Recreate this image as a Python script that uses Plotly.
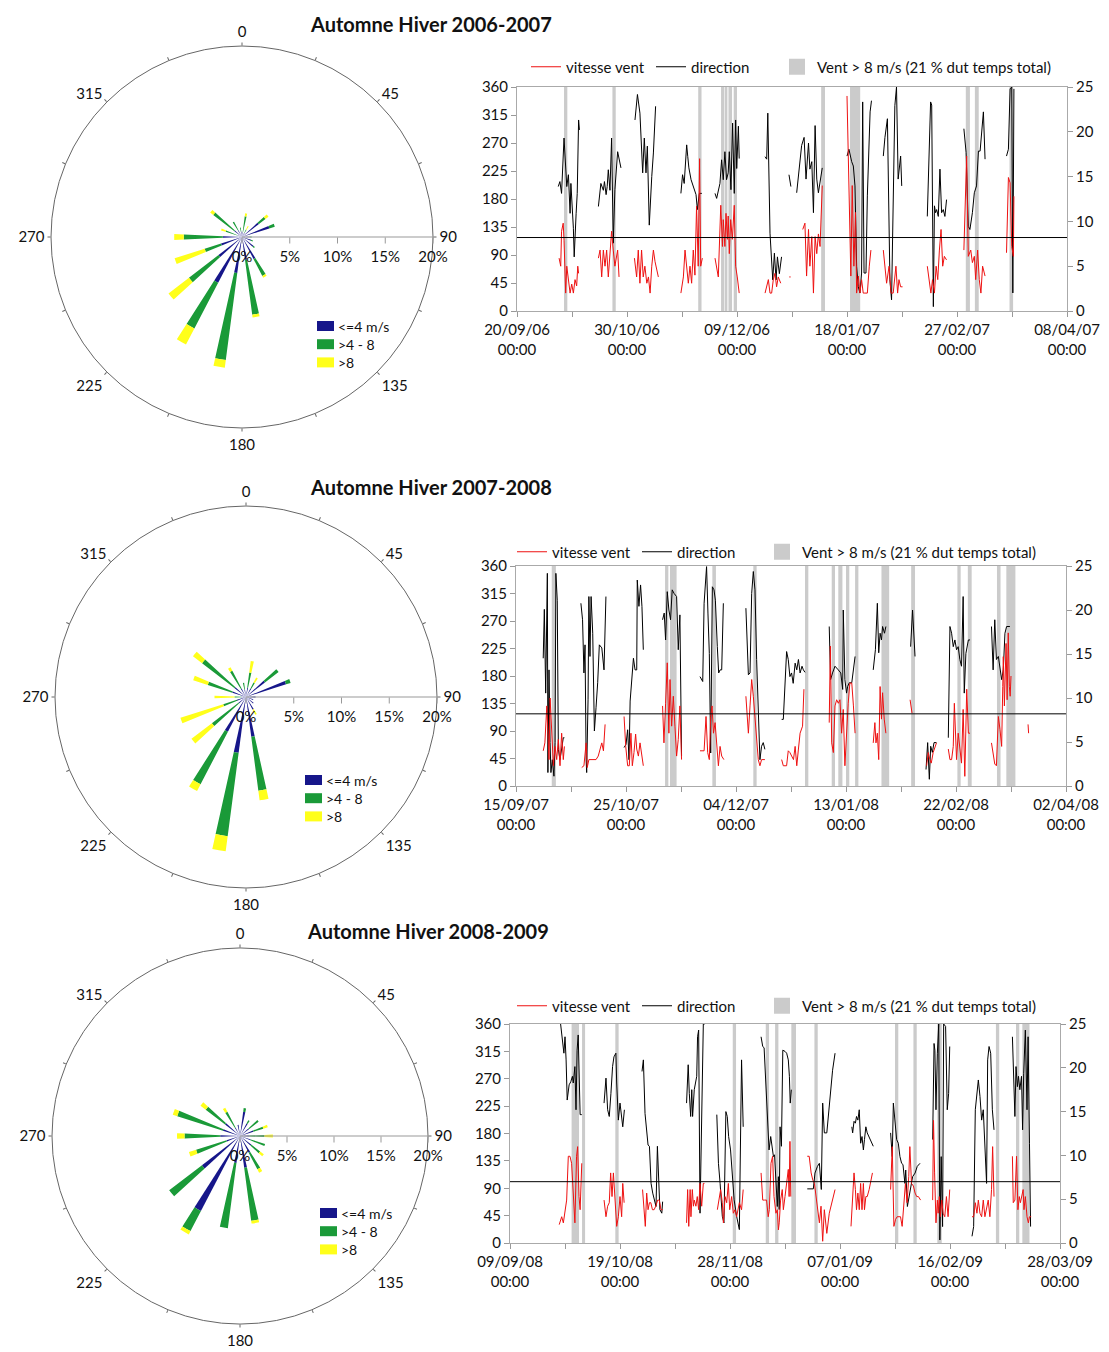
import plotly.graph_objects as go
import pandas as pd

W, H = 1109, 1352
FONT = "Lato, 'Open Sans', sans-serif"

# ------------------------------------------------------------------ wind roses
dir_bins = [10, 30, 50, 70, 90, 110, 130, 150, 170, 190, 210, 230, 250, 270, 290, 310, 330, 350]
class_labels = ["<=4 m/s", ">4 - 8", ">8"]
class_colors = ["#16168a", "#1a9a38", "#ffff1a"]

rose1_le4 = [0.5, 0.5, 2.2, 3.0, 0.8, 1.0, 1.5, 2.6, 2.4, 3.8, 5.4, 3.1, 2.3, 2.0, 0.5, 1.0, 0.8, 0.6]
rose1_4to8 = [1.7, 0.4, 0.9, 0.6, 0.2, 0.2, 0.2, 2.0, 5.8, 9.2, 5.4, 3.9, 1.8, 4.1, 1.3, 2.8, 1.0, 0.4]
rose1_gt8 = [0.3, 0.4, 0.4, 0, 0, 0, 0, 0.2, 0.3, 0.8, 1.9, 2.7, 3.3, 1.0, 0.5, 0.4, 0, 0]

rose2_le4 = [1.0, 1.0, 2.5, 4.4, 1.0, 0.8, 1.0, 1.5, 4.2, 5.9, 4.1, 1.0, 1.0, 0.5, 1.5, 1.5, 1.0, 0.8]
rose2_4to8 = [1.6, 0.7, 1.8, 0.5, 0, 0, 0, 0, 5.7, 8.8, 6.2, 3.5, 1.5, 0.7, 2.7, 4.3, 2.1, 0.7]
rose2_gt8 = [1.2, 0.6, 0, 0, 0, 0, 0, 0.6, 1.0, 1.6, 0.8, 2.7, 4.7, 2.1, 1.6, 1.2, 0.4, 0]

rose3_le4 = [2.6, 1.5, 1.2, 1.5, 1.0, 1.2, 1.5, 2.0, 3.4, 2.9, 9.0, 5.1, 1.5, 2.1, 1.9, 2.0, 1.0, 1.2]
rose3_4to8 = [0.4, 0.4, 1.3, 1.1, 1.6, 1.6, 1.2, 2.0, 5.7, 7.0, 2.4, 4.4, 3.4, 3.8, 5.1, 2.6, 1.9, 0]
rose3_gt8 = [0, 0, 0, 0.5, 0.9, 0, 0.5, 0.4, 0.3, 0, 0.4, 0, 0.8, 0.8, 0.5, 0.7, 0.5, 0]

angle_ticks = [0, 22.5, 45, 67.5, 90, 112.5, 135, 157.5, 180, 202.5, 225, 247.5, 270, 292.5, 315, 337.5]
angle_text = ["0", "", "45", "", "90", "", "135", "", "180", "", "225", "", "270", "", "315", ""]
radial_ticks = [0, 5, 10, 15, 20]
radial_text = ["0%", "5%", "10%", "15%", "20%"]

# ------------------------------------------------------------------ time series
titles = ["Automne Hiver 2006-2007", "Automne Hiver 2007-2008", "Automne Hiver 2008-2009"]
starts = ["2006-09-20", "2007-09-15", "2008-09-09"]
ends = ["2007-04-08", "2008-04-02", "2009-03-28"]
thresholds = [8.2, 8.2, 7.0]

# days since start / direction (deg); None = gap
c1_dir_day = [15.0, 15.6, 16.2, 17.1, 18.1, 18.7, 19.3, 19.6, 20.5, 20.8, 21.5, 21.9, 22.4, 22.7, None,
              29.6, 30.5, 31.4, 31.8, 32.4, 32.8, 33.2, 33.8, 34.4, 35.0, 35.6, 36.6, 37.8, None,
              42.9, 43.8, 44.7, 45.7, 46.3, 46.9, 47.4, 48.1, 49.0, 49.6, 50.4, None,
              59.6, 60.2, 60.8, 61.7, 62.1, 62.5, 63.3, 64.1, 65.1, 65.6, 66.3, 67.2, None,
              72.0, 72.6, 73.8, 74.4, 75.0, 75.6, 76.2, 76.8, 77.2, 77.8, 78.4, 79.0, 79.5, 79.9, 80.5, 80.8, None,
              90.2, 90.8, 91.2, 92.0, 93.0, 93.6, 94.2, 94.7, 95.4, 96.2, None,
              98.9, 99.3, 99.6, None,
              101.7, 103.5, 104.4, 105.1, 106.0, 106.5, 107.2, 107.8, 108.4, 109.0, 109.6, 110.2, 111.0, None,
              120.0, 120.7, 121.7, 122.3, 122.9, 123.5, 124.1, 124.7, 125.3, 125.7, 126.2, 126.9, 127.4, 128.4, 128.9, None,
              133.2, 133.8, 134.7, 135.3, 135.6, 136.2, 136.8, 137.4, 138.0, 138.6, 139.5, 139.9, None,
              149.2, 149.9, 150.4, 150.8, 151.4, 151.8, 152.2, 152.6, 153.2, 153.8, 154.4, 155.0, 155.6, 156.2, None,
              162.5, 163.3, 164.1, 164.7, 165.6, 166.3, 167.1, 167.8, 168.4, 169.0, 169.6, 170.2, None,
              178.0, 178.7, 179.3, 179.9, 180.3, 180.7]
c1_dir_val = [200, 208, 189, 278, 200, 219, 157, 205, 133, 87, 157, 189, 307, 291, None,
              168, 205, 194, 208, 187, 200, 227, 194, 278, 109, 195, 256, 230, None,
              307, 348, 318, 222, 278, 222, 265, 138, 216, 254, 329, None,
              189, 219, 205, 267, 248, 230, 211, 200, 187, 163, 189, 189, None,
              189, 181, 205, 243, 211, 256, 211, 222, 256, 195, 302, 189, 307, 229, 297, 245, None,
              248, 244, 318, 125, 50, 93, 50, 87, 60, 87, None,
              219, 206, 200, None,
              190, 266, 279, 212, 270, 228, 240, 158, 298, 212, 190, 206, 230, None,
              249, 260, 240, 233, 201, 72, 39, 29, 61, 336, 61, 61, 185, 320, 338, None,
              249, 279, 309, 169, 50, 18, 147, 330, 360, 212, 249, 201, None,
              152, 244, 336, 331, 7, 169, 158, 163, 152, 228, 158, 163, 152, 179, None,
              293, 255, 136, 131, 158, 190, 201, 257, 257, 287, 320, 244, None,
              249, 260, 357, 360, 29, 357]
c1_spd_day = [15.3, 15.9, 16.2, 16.8, 17.1, 17.7, 18.1, 18.7, 19.3, 19.9, 20.5, 21.1, 21.7, 22.1, 22.4, None,
              29.6, 30.2, 30.8, 31.4, 32.0, 32.6, 33.2, 33.8, 34.4, 35.0, 35.6, 36.6, 37.1, None,
              42.7, 43.5, 44.1, 44.7, 45.3, 45.9, 46.5, 47.2, 47.8, 48.4, 49.0, 49.6, 50.2, 51.4, None,
              59.6, 60.5, 61.1, 61.7, 62.3, 62.9, 63.5, 64.1, 64.7, 65.3, 65.9, 66.4, 66.8, 67.4, None,
              72.0, 73.2, 74.1, 74.7, 75.0, 75.6, 76.0, 76.5, 76.8, 77.2, 77.7, 78.3, 79.0, 79.5, 80.1, 80.8, None,
              90.2, 90.8, 91.4, 92.0, 92.6, 93.2, 93.8, 94.4, 95.0, 95.9, None,
              99.0, 99.5, None,
              103.9, 104.7, 105.3, 106.0, 106.5, 107.2, 107.8, 108.4, 109.0, 109.6, 110.2, 111.0, None,
              120.0, 120.4, 121.0, 121.4, 121.9, 122.5, 123.1, 123.5, 124.1, 124.7, 125.3, 125.9, 126.5, 127.4, 128.1, 128.7, None,
              133.2, 134.4, 135.3, 136.0, 136.8, 137.8, 138.4, 138.9, 139.5, 140.2, None,
              149.2, 149.9, 150.5, 151.1, 151.8, 152.4, 153.0, 153.6, 154.2, 154.8, 155.4, 156.2, None,
              162.5, 163.5, 164.1, 165.0, 165.6, 166.3, 166.8, 167.5, 168.1, 168.7, 169.3, 170.2, None,
              178.0, 178.7, 179.3, 179.9, 180.5, 180.7]
c1_spd_val = [5.9, 5.0, 8.9, 9.8, 7.9, 2.0, 5.0, 3.5, 2.0, 3.0, 2.0, 3.5, 2.8, 5.0, 4.2, None,
              5.9, 6.8, 3.8, 6.8, 5.0, 6.8, 3.8, 6.4, 8.9, 6.8, 5.0, 6.8, 3.8, None,
              5.9, 3.8, 6.8, 3.1, 6.8, 3.8, 5.0, 3.1, 3.8, 2.0, 5.0, 6.8, 5.5, 3.8, None,
              2.0, 3.8, 6.8, 5.0, 3.1, 5.0, 3.1, 6.8, 4.0, 11.7, 5.0, 17.0, 5.0, 5.9, None,
              5.9, 3.8, 11.8, 7.2, 10.2, 7.2, 10.9, 8.0, 10.6, 6.4, 10.2, 8.0, 11.8, 5.0, 3.8, 2.0, None,
              2.0, 2.7, 3.5, 2.0, 2.0, 3.5, 4.2, 2.7, 3.8, 3.1, None,
              3.8, 3.8, None,
              9.1, 9.8, 3.9, 9.1, 5.0, 8.3, 2.0, 8.3, 6.4, 8.6, 7.2, 14.0, None,
              24.0, 18.5, 10.2, 3.9, 14.0, 5.0, 11.0, 2.0, 3.9, 2.0, 3.5, 2.0, 2.0, 2.0, 5.0, 6.8, None,
              6.8, 3.1, 5.0, 2.0, 2.0, 5.0, 2.0, 3.5, 2.7, 2.7, None,
              5.0, 3.5, 2.0, 3.5, 2.0, 5.0, 3.5, 6.8, 9.1, 5.0, 6.1, 5.7, None,
              6.8, 17.3, 6.1, 6.8, 5.4, 6.1, 3.5, 6.8, 3.5, 2.0, 5.0, 3.9, None,
              6.5, 14.9, 14.3, 7.2, 6.1, 12.8]
c1_band_start = [17.1, 34.7, 65.9, 74.2, 75.6, 76.9, 78.8, 110.6, 121.1, 163.2, 166.5, 179.1]
c1_band_end = [18.3, 35.9, 67.1, 75.4, 76.5, 78.2, 80.0, 112.0, 124.8, 164.7, 167.9, 180.4]

c2_dir_day = [9.9, 10.3, 10.8, 11.2, 11.4, 11.6, 12.0, 12.4, 12.7, 13.2, 13.8, 14.2, 14.5, 15.0, 15.4, 16.0, 16.6, 17.2, 17.6, None,
              23.6, 24.2, 24.7, 25.1, 25.5, 25.7, 26.2, 26.5, 26.9, 27.3, 27.9, 28.5, 29.1, 29.7, 30.3, 31.2, 32.0, 32.7, None,
              39.3, 40.0, 40.6, 41.1, 41.5, 42.1, 42.7, 43.3, 43.9, 44.1, 44.7, 45.3, 45.8, 46.3, None,
              53.3, 53.9, 54.4, 55.0, 55.6, 56.2, 56.8, 57.5, 58.4, 59.0, 59.6, 60.2, None,
              66.9, 67.9, 68.4, 69.3, 69.8, 70.3, 70.8, 71.4, 72.0, 72.5, 73.2, 73.7, 74.2, 74.8, 75.4, None,
              83.6, 84.5, 85.1, 85.7, 86.3, 86.9, 87.5, 88.1, 88.7, 89.3, 89.9, 90.5, None,
              96.6, 97.2, 98.4, 99.0, 99.6, 100.2, 100.8, 101.5, 102.1, 102.7, 103.3, 104.0, 104.5, 105.1, None,
              113.9, 114.4, 115.1, 116.0, 117.2, 118.1, 118.8, 119.0, 119.6, 120.2, 120.6, 121.2, 122.1, 122.7, 123.3, None,
              129.9, 130.7, 131.4, 131.9, 132.4, 132.9, 133.3, 134.0, 134.5, None,
              143.5, 144.2, 145.1, None,
              149.1, 149.7, 150.3, 150.8, 151.4, 152.0, 152.9, None,
              157.2, 157.8, 158.4, 159.0, 159.6, 160.2, 160.8, 161.4, 162.0, 162.6, 163.0, 163.6, 164.5, 165.1, None,
              172.9, 173.5, 174.1, 174.7, 175.4, 176.0, 176.6, 177.2, 177.8, 178.4, 179.0, 179.6]
c2_dir_val = [209, 289, 152, 326, 348, 22, 190, 71, 22, 43, 16, 71, 348, 304, 60, 43, 65, 79, 79, None,
              299, 272, 185, 231, 43, 22, 141, 310, 212, 310, 250, 90, 128, 169, 231, 226, 190, 310, None,
              63, 68, 92, 43, 139, 174, 209, 190, 190, 337, 294, 329, 294, 223, None,
              272, 283, 239, 318, 288, 272, 321, 315, 310, 223, 280, 49, None,
              179, 171, 299, 359, 283, 217, 54, 326, 321, 304, 228, 185, 190, 190, 299, None,
              291, 182, 185, 315, 351, 321, 207, 109, 43, 65, 71, 60, None,
              109, 109, 220, 207, 179, 185, 168, 201, 190, 207, 185, 196, 190, 186, None,
              261, 174, 185, 196, 190, 185, 158, 288, 174, 152, 163, 169, 169, 190, 212, None,
              190, 223, 299, 218, 250, 239, 261, 250, 261, None,
              228, 288, 212, None,
              27, 71, 11, 65, 55, 71, 71, None,
              79, 261, 250, 228, 239, 223, 228, 207, 196, 310, 152, 217, 239, 239, None,
              261, 190, 272, 207, 212, 190, 174, 190, 250, 261, 261, 261]
c2_spd_day = [9.9, 10.5, 11.2, 11.5, 12.0, 12.4, 12.7, 13.1, 13.6, 14.2, 14.8, 15.4, 16.0, 16.6, 17.2, 17.6, None,
              23.9, 24.7, 25.5, 25.9, 26.5, 27.2, 28.1, 29.1, 29.9, 30.5, 31.2, 31.8, 32.4, None,
              39.3, 39.9, 40.6, 41.2, 41.8, 42.3, 42.9, 43.5, 43.9, 44.5, 45.1, 45.7, 46.3, None,
              53.3, 53.8, 54.4, 55.0, 55.6, 56.0, 56.6, 57.2, 57.8, 58.4, 59.0, 59.6, 60.2, None,
              66.9, 68.4, 69.1, 69.7, 70.3, 70.8, 71.3, 71.8, 72.4, 73.0, 73.6, 74.2, 74.8, 75.6, None,
              83.6, 84.5, 85.1, 85.7, 86.3, 86.9, 87.5, 88.1, 88.7, 89.3, 90.5, None,
              96.6, 97.2, 98.4, 99.0, 99.6, 100.2, 100.9, 101.5, 102.1, 102.7, 103.3, 104.2, 104.7, None,
              113.9, 114.3, 114.8, 115.4, 116.0, 116.6, 117.2, 117.8, 118.4, 119.0, 119.6, 120.2, 120.8, 121.4, 122.1, 122.7, 123.3, None,
              129.9, 130.5, 130.9, 131.4, 131.9, 132.4, 132.9, 133.3, 133.9, 134.5, None,
              143.3, 144.0, None,
              149.3, 149.9, 150.5, 151.0, 151.7, 152.9, None,
              157.2, 157.8, 158.4, 159.0, 159.4, 159.8, 160.2, 160.8, 161.4, 162.0, 162.6, 163.2, 163.9, 164.5, 165.1, None,
              172.9, 173.5, 174.1, 174.7, 175.4, 176.0, 176.6, 177.0, 177.2, 177.6, 178.2, 178.6, 179.0, 179.4, 179.7, 180.0, None,
              186.2, 186.4]
c2_spd_val = [4.0, 4.9, 9.1, 6.0, 3.0, 10.0, 7.6, 4.5, 2.3, 4.5, 3.0, 5.3, 2.3, 6.0, 3.0, 4.5, None,
              2.1, 2.3, 4.9, 2.1, 3.0, 3.0, 3.0, 3.0, 3.4, 4.0, 4.9, 4.0, 7.0, None,
              7.9, 4.5, 2.3, 2.3, 6.0, 2.3, 3.8, 5.9, 4.2, 3.4, 4.9, 3.8, 2.3, None,
              9.1, 4.9, 9.4, 14.0, 6.0, 12.1, 6.8, 10.2, 6.8, 3.4, 5.3, 9.1, 3.0, None,
              4.0, 4.0, 7.9, 3.8, 3.0, 7.9, 9.1, 6.0, 7.2, 4.2, 2.3, 4.5, 3.4, 3.0, None,
              10.2, 6.0, 9.1, 12.1, 10.2, 7.9, 6.0, 3.0, 2.3, 3.0, 3.0, None,
              3.0, 2.3, 2.3, 4.0, 3.8, 3.4, 3.0, 4.5, 2.3, 4.2, 6.0, 6.8, 11.0, None,
              7.2, 15.9, 4.9, 3.8, 9.1, 9.8, 9.4, 9.8, 6.0, 8.7, 2.3, 6.0, 9.4, 11.7, 11.7, 9.1, 6.0, None,
              4.9, 7.2, 4.9, 6.0, 3.0, 11.3, 7.6, 10.6, 7.6, 6.0, None,
              9.8, 8.3, None,
              2.3, 3.8, 3.0, 2.6, 3.8, 4.9, None,
              4.2, 3.0, 3.0, 4.5, 9.4, 6.8, 3.0, 6.0, 3.8, 2.6, 8.7, 1.1, 11.0, 6.0, 6.0, None,
              4.9, 3.8, 2.5, 2.3, 7.9, 6.4, 4.5, 11.3, 14.7, 9.1, 16.2, 9.8, 17.4, 11.3, 10.2, 12.5, None,
              7.0, 6.0]
c2_band_start = [13.0, 54.2, 56.0, 71.4, 86.3, 105.1, 114.8, 117.2, 120.0, 123.3, 132.9, 143.7, 160.5, 164.3, 174.9, 178.3]
c2_band_end = [14.5, 55.4, 58.4, 72.7, 87.5, 106.3, 116.0, 118.7, 121.2, 124.5, 135.7, 145.1, 161.7, 165.7, 176.2, 181.6]

c3_dir_day = [18.4, 19.0, 19.6, 20.0, 20.4, 20.8, 21.5, 22.1, 22.7, 23.0, 23.6, 24.0, 24.4, 24.8, 25.5, 26.1, None,
              34.2, 34.9, 35.5, 36.1, 36.7, 37.3, 37.8, 38.5, 38.8, 39.4, 40.0, 40.6, 41.0, 41.6, None,
              48.0, 48.5, 49.1, 49.7, 50.2, 50.7, 51.3, 51.9, 52.5, 53.1, 53.6, 53.9, 54.5, 55.2, 55.5, None,
              64.2, 64.8, 65.2, 65.7, 66.1, 66.4, 67.0, 67.4, 67.9, 68.2, 68.6, 69.1, 69.7, 70.3, 70.8, None,
              75.2, 75.8, 76.4, 77.2, 77.8, 78.2, 78.5, 79.0, 79.5, 80.2, 80.8, 81.5, 82.4, 83.4, 84.2, 84.8, None,
              91.3, 91.9, 92.4, 93.0, 93.6, 94.2, 94.8, 95.2, 95.8, 96.2, 96.7, 97.2, 97.6, 97.9, 98.2, 98.7, 99.2, 100.0, 100.6, 101.2, 101.6, 101.9, 102.3, None,
              108.1, 110.3, 110.9, 111.8, 112.5, 113.2, 113.7, 114.3, 115.2, 116.4, 117.3, 118.2, None,
              124.3, 124.6, 125.1, 125.6, 126.0, 126.5, 127.0, 127.5, 128.0, 128.5, 128.9, 129.4, 129.9, 130.9, 132.1, None,
              138.4, 139.0, 139.4, 139.9, 140.6, 141.2, 141.8, 142.4, 142.9, 143.6, 143.9, 144.5, 145.4, 146.4, 147.3, 148.1, 149.1, None,
              153.7, 154.2, 154.5, 154.9, 155.4, 155.9, 156.3, 156.8, 157.3, 157.7, 158.4, 159.0, 159.5, 159.9, None,
              168.0, 168.6, 169.2, 169.8, 170.3, 170.9, 171.5, 172.1, 172.7, 173.3, 173.7, 174.2, 174.8, 175.4, 176.0, None,
              182.7, 183.0, 183.6, 184.0, 184.5, 184.9, 185.4, 186.0, 186.4, 186.8, 187.4, 188.0, 188.4, 188.9, 189.3]
c3_dir_val = [360, 339, 312, 339, 301, 235, 260, 265, 274, 263, 290, 219, 317, 342, 211, 211, None,
              230, 271, 219, 208, 246, 290, 306, 312, 263, 202, 230, 208, 191, 219, None,
              282, 301, 213, 181, 161, 159, 98, 82, 71, 60, 159, 120, 55, 49, 68, None,
              230, 293, 246, 208, 252, 208, 252, 263, 274, 339, 350, 49, 191, 360, 360, None,
              211, 131, 98, 44, 33, 131, 216, 208, 175, 153, 109, 71, 44, 22, 301, 191, None,
              339, 323, 321, 263, 202, 153, 175, 164, 142, 145, 93, 60, 109, 55, 191, 159, 317, 315, 312, 301, 274, 230, 252, None,
              89, 89, 115, 126, 131, 88, 230, 181, 181, 246, 284, 312, None,
              191, 181, 200, 197, 208, 202, 219, 164, 175, 153, 170, 191, 181, 172, 159, None,
              181, 142, 230, 202, 170, 164, 142, 131, 129, 98, 120, 60, 82, 109, 115, 126, 131, None,
              170, 328, 317, 219, 312, 360, 5, 142, 27, 360, 356, 219, 246, 323, None,
              11, 27, 219, 246, 268, 241, 202, 219, 142, 98, 301, 323, 312, 219, 186, None,
              339, 295, 208, 290, 257, 274, 252, 274, 186, 279, 350, 219, 339, 164, 27]
c3_spd_day = [17.9, 18.8, 19.4, 20.0, 20.6, 21.2, 21.8, 22.4, 23.0, 23.6, 24.2, 24.6, 25.1, 25.5, 26.1, None,
              34.2, 34.9, 35.5, 36.1, 36.6, 37.1, 37.6, 38.2, 38.8, 39.4, 40.0, 40.6, 41.0, 41.5, None,
              48.2, 48.7, 49.2, 49.7, 50.2, 50.7, 51.2, 51.8, 52.4, 53.0, 53.7, 54.3, 54.9, 55.5, None,
              64.2, 64.6, 65.0, 65.5, 65.8, 66.3, 66.7, 67.0, 67.6, 68.1, 68.6, 69.1, 69.7, 70.3, 70.7, None,
              75.4, 76.0, 76.6, 77.2, 77.6, 78.2, 78.8, 79.4, 79.9, 80.6, 81.2, 81.8, 82.4, 83.4, 84.2, 84.8, None,
              91.3, 91.9, 92.5, 93.3, 93.9, 94.3, 94.9, 95.5, 96.0, 96.7, 97.2, 97.6, 97.9, 98.4, 99.0, 99.4, 100.0, 100.6, 101.2, 101.5, 101.8, 102.1, None,
              108.1, 108.8, 109.5, 110.1, 110.7, 111.3, 111.9, 112.5, 113.1, 113.7, 114.3, 115.2, 116.1, 117.0, 118.2, None,
              124.0, 124.6, 125.1, 125.6, 126.0, 126.5, 127.0, 127.5, 128.0, 128.5, 128.9, 129.4, 129.9, 130.6, 131.8, None,
              138.4, 139.0, 139.6, 140.2, 140.8, 141.4, 142.0, 142.6, 143.1, 143.8, 144.4, 145.0, 145.4, 146.0, 146.7, 147.3, 147.9, 148.5, 149.3, None,
              153.7, 154.0, 154.4, 154.9, 155.4, 155.7, 156.1, 156.5, 157.0, 157.5, 158.1, 158.7, 159.3, 159.9, None,
              168.0, 168.6, 169.2, 169.8, 170.3, 170.9, 171.5, 172.1, 172.7, 173.3, 173.9, 174.5, 175.1, 175.5, 176.0, None,
              182.7, 183.0, 183.6, 184.2, 184.7, 185.2, 185.6, 186.1, 186.6, 186.9, 187.4, 188.0, 188.5, 188.9, 189.5]
c3_spd_val = [2.1, 3.0, 2.3, 3.8, 4.9, 9.9, 9.9, 9.1, 5.3, 2.3, 9.9, 11.0, 5.3, 3.8, 9.1, None,
              4.9, 3.0, 4.2, 4.6, 8.0, 5.3, 8.0, 4.6, 1.9, 3.0, 5.3, 3.0, 6.8, 4.6, None,
              6.1, 3.8, 1.9, 5.7, 3.8, 4.6, 4.6, 3.8, 3.8, 4.2, 4.9, 4.9, 3.8, 3.8, None,
              2.3, 6.1, 1.9, 6.1, 3.0, 6.1, 4.2, 4.9, 4.2, 5.3, 3.8, 6.8, 4.2, 6.8, 6.8, None,
              3.8, 4.9, 6.1, 4.6, 2.3, 5.3, 4.6, 6.8, 3.8, 5.3, 3.4, 3.8, 3.0, 4.6, 3.8, 6.1, None,
              8.0, 4.9, 4.9, 4.9, 3.0, 3.8, 9.1, 9.9, 5.3, 3.4, 3.8, 1.5, 2.3, 4.9, 6.1, 3.8, 5.3, 6.8, 8.4, 5.3, 11.6, 5.3, None,
              9.9, 9.9, 8.0, 7.2, 6.8, 5.3, 3.8, 2.3, 4.2, 0.2, 3.8, 1.1, 3.4, 4.6, 6.1, None,
              1.9, 5.3, 8.0, 6.1, 3.8, 5.7, 3.8, 6.8, 3.8, 6.8, 3.8, 5.3, 5.3, 6.1, 8.0, None,
              6.1, 11.0, 1.9, 2.7, 3.0, 3.0, 3.0, 1.9, 3.8, 6.8, 4.6, 7.6, 11.0, 6.8, 6.5, 5.7, 5.3, 5.3, 4.9, None,
              4.9, 14.0, 8.0, 2.3, 4.9, 3.4, 5.3, 3.0, 4.9, 3.4, 3.0, 5.3, 3.0, 6.1, None,
              3.0, 3.0, 4.6, 3.4, 4.9, 3.4, 3.0, 4.9, 3.0, 3.8, 4.9, 3.0, 6.1, 11.0, 5.3, None,
              9.9, 4.6, 4.9, 9.9, 3.8, 5.3, 4.6, 5.3, 6.1, 3.8, 5.3, 3.0, 2.3, 3.0, 3.0]
c3_band_start = [22.4, 26.2, 38.3, 81.0, 93.0, 96.4, 102.3, 110.7, 140.0, 146.7, 155.4, 176.7, 184.0, 186.3]
c3_band_end = [25.1, 27.3, 39.5, 82.2, 94.2, 97.6, 104.0, 111.9, 141.2, 147.9, 157.0, 177.9, 185.2, 188.9]

dir_ticks = [0, 45, 90, 135, 180, 225, 270, 315, 360]
spd_ticks = [0, 5, 10, 15, 20, 25]
legend_speed = "vitesse vent"
legend_dir = "direction"
legend_band = "Vent > 8 m/s (21 % dut temps total)"

# ------------------------------------------------------------------ helpers
DAY_MS = 86400000


def to_dates(start, days):
    t0 = pd.Timestamp(start)
    return [None if d is None else (t0 + pd.Timedelta(days=d)).strftime("%Y-%m-%d %H:%M:%S") for d in days]


def px_dom_x(a, b):
    return [a / W, b / W]


def px_dom_y(top, bottom):
    return [1 - bottom / H, 1 - top / H]


def esc(s):
    return s.replace("<", "&lt;").replace(">", "&gt;")


fig = go.Figure()

# ------------------------------------------------------------------ roses
roses = [
    (rose1_le4, rose1_4to8, rose1_gt8),
    (rose2_le4, rose2_4to8, rose2_gt8),
    (rose3_le4, rose3_4to8, rose3_gt8),
]
rose_centers = [(242, 237), (246, 697), (240, 1136)]
rose_radius = [191, 191, 188]
rose_legend_pos = [(317, 326), (305, 780), (320, 1213)]
LEG_FS = 14
LEG_STEP = LEG_FS * 1.3

for i, classes in enumerate(roses):
    pname = "polar" if i == 0 else f"polar{i + 1}"
    for lab, col, r in zip(class_labels, class_colors, classes):
        fig.add_trace(go.Barpolar(r=r, theta=dir_bins, width=5, name=lab,
                                  marker=dict(color=col, line=dict(width=0)),
                                  subplot=pname, showlegend=False))
    cx, cy = rose_centers[i]
    R = rose_radius[i]
    fig.layout[pname] = dict(
        domain=dict(x=px_dom_x(cx - R, cx + R), y=px_dom_y(cy - R, cy + R)),
        bgcolor="rgba(0,0,0,0)",
        barmode="stack",
        angularaxis=dict(direction="clockwise", rotation=90, tickmode="array",
                         tickvals=angle_ticks, ticktext=angle_text, showgrid=False,
                         ticks="outside", ticklen=3, tickcolor="#666", linecolor="#666",
                         linewidth=1, tickfont=dict(size=15, color="#111")),
        radialaxis=dict(range=[0, 20], tickvals=radial_ticks, ticktext=radial_text,
                        angle=0, tickangle=0, side="clockwise", showgrid=False,
                        showline=True, linecolor="#999", ticks="outside", ticklen=6,
                        tickcolor="#999", tickfont=dict(size=15, color="#111")),
    )
    # legend block of the rose: colour boxes + one multi-line label
    lx, ly = rose_legend_pos[i]
    for j, col in enumerate(class_colors):
        yc = ly + LEG_STEP * j
        fig.add_shape(type="rect", xref="paper", yref="paper",
                      x0=lx / W, x1=(lx + 17) / W, y0=1 - (yc + 5) / H, y1=1 - (yc - 5) / H,
                      fillcolor=col, line=dict(width=0))
    fig.add_annotation(text="<br>".join(esc(l) for l in class_labels),
                       x=(lx + 20) / W, y=1 - (ly + LEG_STEP) / H,
                       xref="paper", yref="paper", showarrow=False, xanchor="left",
                       yanchor="middle", align="left", borderpad=0,
                       font=dict(size=LEG_FS, color="#111"))

# ------------------------------------------------------------------ time series
series = [
    (c1_dir_day, c1_dir_val, c1_spd_day, c1_spd_val, c1_band_start, c1_band_end),
    (c2_dir_day, c2_dir_val, c2_spd_day, c2_spd_val, c2_band_start, c2_band_end),
    (c3_dir_day, c3_dir_val, c3_spd_day, c3_spd_val, c3_band_start, c3_band_end),
]
plot_boxes = [(517, 1067, 87, 311), (516, 1066, 566, 786), (510, 1060, 1024, 1243)]
# left edge of each legend entry (speed, direction, band) and its vertical centre
ts_legend_x = [(526, 651, 777), (512, 637, 762), (512, 637, 762)]
ts_legend_y = [67, 552, 1006]
title_pos = [(431, 24), (431, 487), (428, 931)]

for i, (dd, dv, sd, sv, bs, be) in enumerate(series):
    xa = "x" if i == 0 else f"x{i + 1}"
    ya = f"y{2 * i + 1}" if i > 0 else "y"
    yb = f"y{2 * i + 2}"
    lnames = [("legend" if 3 * i + k == 0 else f"legend{3 * i + k + 1}") for k in range(3)]
    start, end = starts[i], ends[i]

    fig.add_trace(go.Scatter(x=to_dates(start, dd), y=dv, mode="lines", name=legend_dir,
                             line=dict(color="#000000", width=1), xaxis=xa, yaxis=ya,
                             legend=lnames[1], connectgaps=False, hoverinfo="skip"))
    fig.add_trace(go.Scatter(x=to_dates(start, sd), y=sv, mode="lines", name=legend_speed,
                             line=dict(color="#ee1111", width=1), xaxis=xa, yaxis=yb,
                             legend=lnames[0], connectgaps=False, hoverinfo="skip"))
    fig.add_trace(go.Scatter(x=[None], y=[None], mode="markers", name=legend_band,
                             marker=dict(symbol="square", size=16, color="#cbcbcb"),
                             xaxis=xa, yaxis=yb, legend=lnames[2]))

    for s, e in zip(to_dates(start, bs), to_dates(start, be)):
        fig.add_shape(type="rect", xref=xa, yref=f"{ya} domain", x0=s, x1=e, y0=0, y1=1,
                      fillcolor="#cbcbcb", line=dict(width=0), layer="below")
    fig.add_shape(type="line", xref=f"{xa} domain", yref=yb, x0=0, x1=1,
                  y0=thresholds[i], y1=thresholds[i], line=dict(color="#000", width=1))

    x0p, x1p, t, b = plot_boxes[i]
    xkey = "xaxis" if i == 0 else f"xaxis{i + 1}"
    yakey = "yaxis" if i == 0 else f"yaxis{2 * i + 1}"
    ybkey = f"yaxis{2 * i + 2}"
    fig.layout[xkey] = dict(domain=px_dom_x(x0p, x1p), anchor=ya, type="date",
                            range=[start, end], tick0=start, dtick=40 * DAY_MS,
                            tickformat="%d/%m/%y<br>%H:%M", ticks="outside", ticklen=5,
                            tickcolor="#999", showline=True, linecolor="#aaa", mirror=True,
                            showgrid=False, zeroline=False, tickfont=dict(size=15, color="#111"),
                            minor=dict(dtick=20 * DAY_MS, tick0=start, ticks="outside",
                                       ticklen=5, tickcolor="#999", showgrid=False))
    fig.layout[yakey] = dict(domain=px_dom_y(t, b), anchor=xa, range=[0, 360],
                             tickvals=dir_ticks, ticks="outside", ticklen=5, tickcolor="#999",
                             showline=True, linecolor="#aaa", showgrid=False, zeroline=False,
                             tickfont=dict(size=15, color="#111"))
    fig.layout[ybkey] = dict(overlaying=ya, anchor=xa, side="right", range=[0, 25],
                             tickvals=spd_ticks, ticks="outside", ticklen=5, tickcolor="#999",
                             showline=True, linecolor="#aaa", showgrid=False, zeroline=False,
                             tickfont=dict(size=15, color="#111"))
    for k in range(3):
        fig.layout[lnames[k]] = dict(orientation="h", x=ts_legend_x[i][k] / W,
                                     y=1 - ts_legend_y[i] / H, xanchor="left",
                                     yanchor="middle", bgcolor="rgba(0,0,0,0)",
                                     font=dict(size=15, color="#111"), itemwidth=30)

    tx, ty = title_pos[i]
    fig.add_annotation(text=f"<b>{titles[i]}</b>", x=tx / W, y=1 - ty / H, xref="paper",
                       yref="paper", showarrow=False, font=dict(size=20, color="#111"),
                       xanchor="center", yanchor="middle")

fig.update_layout(width=W, height=H, autosize=False,
                  margin=dict(l=0, r=0, t=0, b=0, pad=0, autoexpand=False),
                  paper_bgcolor="white", plot_bgcolor="white",
                  font=dict(family=FONT, size=15, color="#111"))

fig.write_html("out.html", config={"displayModeBar": False},
               post_script="document.body.style.margin='0px';")
